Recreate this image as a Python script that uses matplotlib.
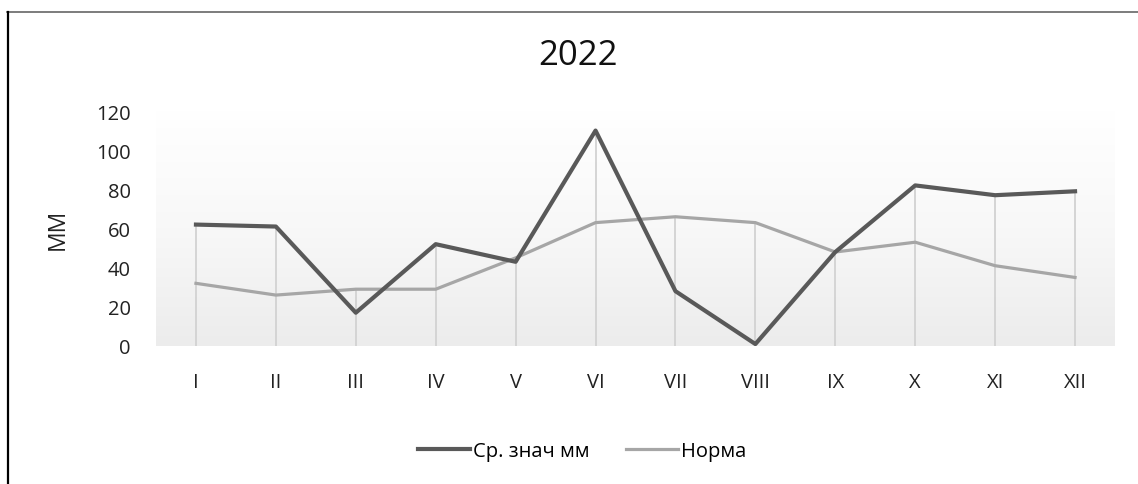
import numpy as np
import matplotlib
matplotlib.use("Agg")
import matplotlib.pyplot as plt
from matplotlib.lines import Line2D
from matplotlib.colors import LinearSegmentedColormap

# Monthly precipitation, 2022
months = ["I", "II", "III", "IV", "V", "VI", "VII", "VIII", "IX", "X", "XI", "XII"]
mean_mm = [62, 61, 17, 52, 43, 110, 28, 1, 48, 82, 77, 79]
norm_mm = [32, 26, 29, 29, 45, 63, 66, 63, 48, 53, 41, 35]
y_ticks = [0, 20, 40, 60, 80, 100, 120]

label_font = ["Open Sans", "DejaVu Sans"]
title_font = ["Open Sans", "DejaVu Sans"]

W, H = 1138, 485
fig = plt.figure(figsize=(W / 100, H / 100), dpi=100)
fig.patch.set_facecolor("white")

ax = fig.add_axes([156 / W, 1 - 347 / H, (1115 - 156) / W, (347 - 112) / H])
ax.set_facecolor("none")

x = np.arange(len(months))
ax.set_xlim(-0.5, len(months) - 0.5)
ax.set_ylim(0, 120)

# Soft vertical gradient behind the plot area
cmap = LinearSegmentedColormap.from_list("fade", ["#ffffff", "#f8f8f8", "#ececec"])
grad = np.linspace(0, 1, 256).reshape(-1, 1)
ax.imshow(grad, extent=[-0.5, len(months) - 0.5, 0, 120], aspect="auto",
          cmap=cmap, origin="upper", zorder=0, interpolation="bicubic")

# Drop lines from the higher of the two series down to zero
tops = np.maximum(mean_mm, norm_mm)
ax.vlines(x, 0, tops, colors="#d2d2d2", linewidth=1.3, zorder=1)

ax.plot(x, norm_mm, color="#a6a6a6", linewidth=2.3, label="Норма", zorder=2,
        solid_joinstyle="round")
ax.plot(x, mean_mm, color="#595959", linewidth=3.0, label="Ср. знач мм", zorder=3,
        solid_joinstyle="round")

for s in ax.spines.values():
    s.set_visible(False)

ax.set_yticks(y_ticks)
ax.set_yticklabels([str(v) for v in y_ticks], fontfamily=label_font, fontsize=14.5,
                   color="#222222")
ax.set_xticks(x)
ax.set_xticklabels(months, fontfamily=label_font, fontsize=14.5, color="#222222")
ax.tick_params(axis="y", length=0, pad=18)
ax.tick_params(axis="x", length=0, pad=19)

ax.set_ylabel("ММ", fontfamily=label_font, fontsize=16.5, color="#222222", labelpad=19)

fig.text(578 / W, 1 - 56 / H, "2022", ha="center", va="center",
         fontfamily=title_font, fontsize=25, color="#111111")

handles = [Line2D([], [], color="#595959", linewidth=3.0),
           Line2D([], [], color="#a6a6a6", linewidth=2.3)]
fig.legend(handles, ["Ср. знач мм", "Норма"], loc="center",
           bbox_to_anchor=(582 / W, 1 - 452 / H), ncol=2, frameon=False,
           prop={"family": label_font, "size": 14.5}, handlelength=2.6,
           handletextpad=0.15, columnspacing=1.8)

# Chart frame: top and left edges
fig.add_artist(Line2D([7 / W, 1], [1 - 12.5 / H, 1 - 12.5 / H], color="#666666",
                      linewidth=1.2, transform=fig.transFigure))
fig.add_artist(Line2D([7.5 / W, 7.5 / W], [0, 1 - 12.5 / H], color="#000000",
                      linewidth=1.6, transform=fig.transFigure))

fig.savefig("out.png", dpi=100, facecolor="white")
